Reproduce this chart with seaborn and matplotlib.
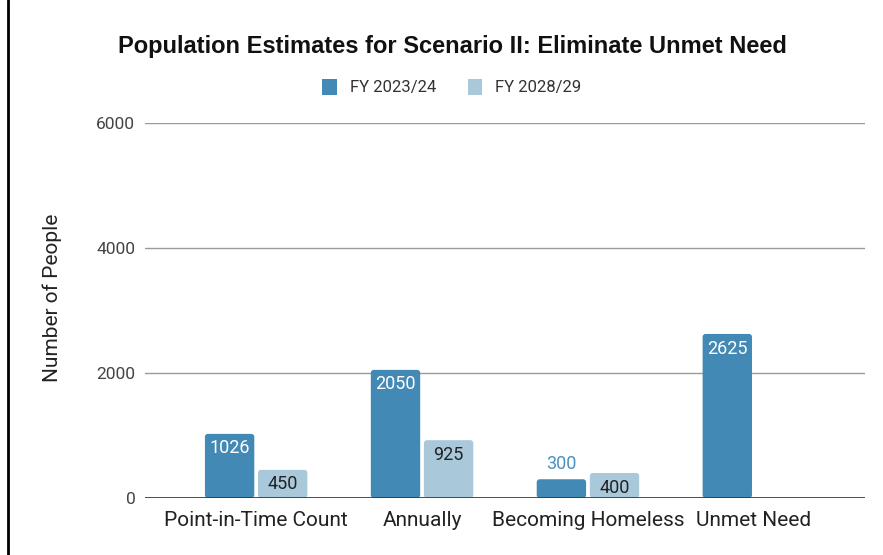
import matplotlib
matplotlib.use("Agg")
import matplotlib.pyplot as plt
from matplotlib.patches import FancyBboxPatch, Patch
from matplotlib.lines import Line2D
import seaborn as sns
import pandas as pd

categories = ["Point-in-Time Count", "Annually", "Becoming Homeless", "Unmet Need"]
series_names = ["FY 2023/24", "FY 2028/29"]
fy2324 = [1026, 2050, 300, 2625]
fy2829 = [450, 925, 400, 0]
y_ticks = [0, 2000, 4000, 6000]

dark = "#4389b5"
light = "#a9c8da"

sns.set_theme(style="white")
plt.rcParams["font.family"] = ["Roboto", "DejaVu Sans"]

df = pd.DataFrame({
    "category": categories * 2,
    "series": [series_names[0]] * len(categories) + [series_names[1]] * len(categories),
    "value": fy2324 + fy2829,
})

fig = plt.figure(figsize=(8.83, 5.55), dpi=100)
ax = fig.add_axes([145 / 883, 1 - 498 / 555, 720 / 883, 375 / 555])

sns.barplot(data=df, x="category", y="value", hue="series", order=categories,
            hue_order=series_names, palette=[dark, light], width=0.64, gap=0.07,
            legend=False, ax=ax, errorbar=None, saturation=1)

ax.set_xlim(-0.67, 3.67)
ax.set_ylim(0, 6000)
ax.set_yticks(y_ticks)
ax.set_yticklabels([str(t) for t in y_ticks], fontsize=12.5, color="#444444")
ax.tick_params(axis="y", length=0, pad=7)
ax.tick_params(axis="x", length=0, pad=9, labelsize=15, labelcolor="#222222")
ax.set_xlabel("")
ax.set_ylabel("Number of People", fontsize=15, color="#222222")
ax.yaxis.set_label_coords(-0.115, 0.535)
for s in ax.spines.values():
    s.set_visible(False)
ax.grid(axis="y", color="#9a9a9a", linewidth=1)
ax.set_axisbelow(True)
ax.axhline(0, color="#333333", linewidth=1.2, zorder=5)

# Replace rectangles with lightly rounded bars and add value labels
fig.canvas.draw()
px_x = (ax.get_xlim()[1] - ax.get_xlim()[0]) / (ax.bbox.width)
px_y = (ax.get_ylim()[1] - ax.get_ylim()[0]) / (ax.bbox.height)
bars = list(ax.patches)
values = fy2324 + fy2829
for bar, val in zip(bars, values):
    x, w = bar.get_x(), bar.get_width()
    h = bar.get_height()
    fc = bar.get_facecolor()
    bar.remove()
    if h <= 0:
        continue
    r = 3 * px_x
    fb = FancyBboxPatch((x, 0), w, h,
                        boxstyle=f"round,pad=0,rounding_size={r}",
                        mutation_aspect=px_y / px_x,
                        facecolor=fc, edgecolor="none", zorder=3)
    ax.add_patch(fb)
    cx = x + w / 2
    txt_col = "white" if fc[0] < 0.5 else "#222222"
    if val > 350:
        ax.annotate(str(val), (cx, val), xytext=(0, -10.5), textcoords="offset points",
                    ha="center", va="center", fontsize=13, color=txt_col, zorder=6)
    else:
        ax.annotate(str(val), (cx, val), xytext=(0, 11), textcoords="offset points",
                    ha="center", va="center", fontsize=13, color="#4a90c0", zorder=6)

fig.suptitle("Population Estimates for Scenario II: Eliminate Unmet Need",
             x=452 / 883, y=1 - 47 / 555, va="center", fontsize=17,
             fontweight="bold", family="Liberation Sans", color="#111111")

handles = [Patch(facecolor=dark, edgecolor="none"), Patch(facecolor=light, edgecolor="none")]
fig.legend(handles, series_names, loc="center", bbox_to_anchor=(452 / 883, 1 - 87 / 555),
           ncol=2, frameon=False, fontsize=12, handlelength=0.85, handleheight=1.1,
           handletextpad=0.8, columnspacing=1.9, labelcolor="#333333")

fig.add_artist(Line2D([8 / 883, 8 / 883], [0, 1], color="black", linewidth=2,
                      transform=fig.transFigure))

fig.savefig("out.png", dpi=100)
